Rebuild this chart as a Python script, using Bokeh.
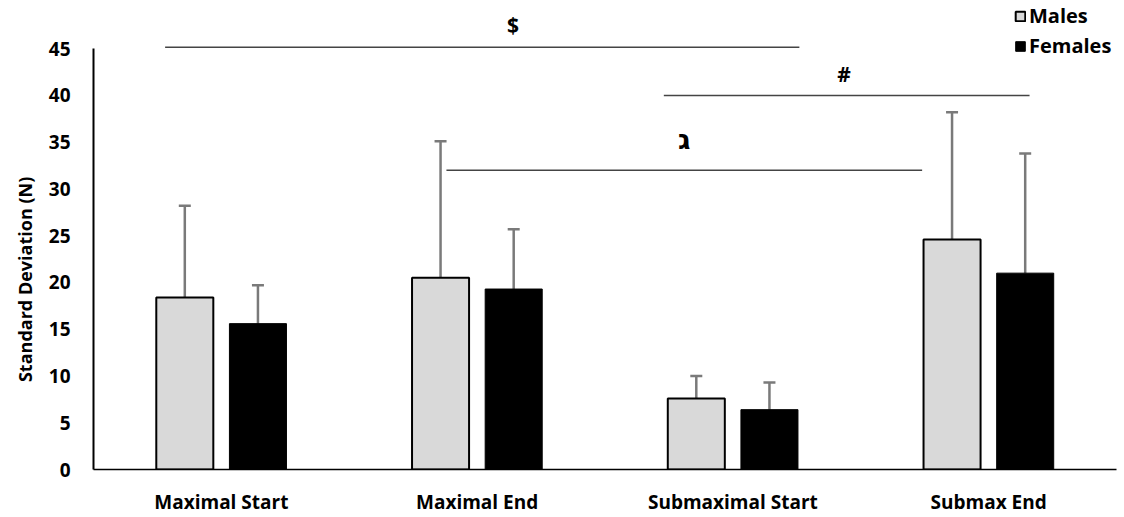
from bokeh.plotting import figure
from bokeh.models import Range1d, FixedTicker, Whisker, TeeHead, ColumnDataSource, Legend, LegendItem
from bokeh.core.properties import value
from bokeh.embed import file_html
from bokeh.resources import INLINE

categories = ["Maximal Start", "Maximal End", "Submaximal Start", "Submax End"]
males = [18.4, 20.5, 7.6, 24.6]
females = [15.6, 19.3, 6.4, 21.0]
males_sd = [9.8, 14.6, 2.4, 13.6]
females_sd = [4.1, 6.4, 2.9, 12.8]
y_ticks = [0, 5, 10, 15, 20, 25, 30, 35, 40, 45]

# significance brackets: symbol, start, end (category units), height
sig_symbols = ["$", "#", "\u05d2"]
sig_start = [0.28, 2.23, 1.38]
sig_end = [2.76, 3.66, 3.24]
sig_height = [45.15, 40.0, 32.0]

FONT = "Open Sans"
centers = [i + 0.5 for i in range(len(categories))]
dodge = 0.143
bw = 0.223

p = figure(width=1120, height=517, output_backend="svg", toolbar_location=None,
           x_range=Range1d(0, 4), y_range=Range1d(0, 50.16),
           min_border_left=93, min_border_right=4, min_border_top=0, min_border_bottom=45)
p.outline_line_color = None
p.grid.visible = False
p.background_fill_color = "white"

mx = [c - dodge for c in centers]
fx = [c + dodge for c in centers]
src_m = ColumnDataSource(dict(x=mx, top=males, up=[m + s for m, s in zip(males, males_sd)]))
src_f = ColumnDataSource(dict(x=fx, top=females, up=[m + s for m, s in zip(females, females_sd)]))

rm = p.vbar(x="x", top="top", width=bw, source=src_m, fill_color="#d9d9d9",
            line_color="black", line_width=2)
rf = p.vbar(x="x", top="top", width=bw, source=src_f, fill_color="black",
            line_color="black", line_width=1)

for src in (src_m, src_f):
    w = Whisker(base="x", lower="top", upper="up", source=src, dimension="height",
                line_color="#7a7a7a", line_width=2.5,
                upper_head=TeeHead(size=12, line_color="#7a7a7a", line_width=2.5),
                lower_head=None)
    p.add_layout(w)

# significance lines
p.segment(x0=sig_start, x1=sig_end, y0=sig_height, y1=sig_height,
          line_color="#444444", line_width=1.5)
sig_tx = [(a + b) / 2 for a, b in zip(sig_start, sig_end)]
sig_tx = [sig_tx[0] + 0.12, sig_tx[1] - 0.01, sig_tx[2] + 0.0]
sig_ty = [h + 2.35 for h in sig_height]
sig_ty[2] = sig_height[2] + 3.3
p.text(x=sig_tx[:2], y=sig_ty[:2], text=sig_symbols[:2], text_align="center", text_baseline="middle",
       text_font=value(FONT), text_font_style="bold", text_font_size="21px", text_color="black")
p.text(x=sig_tx[2:], y=sig_ty[2:], text=sig_symbols[2:], text_align="center", text_baseline="middle",
       text_font=value("DejaVu Sans"), text_font_style="bold", text_font_size="28px", text_color="black")

# axes
p.xaxis.ticker = FixedTicker(ticks=centers)
p.xaxis.major_label_overrides = {c: n for c, n in zip(centers, categories)}
p.xaxis.major_tick_line_color = None
p.xaxis.minor_tick_line_color = None
p.xaxis.axis_line_color = "black"
p.xaxis.axis_line_width = 1.5
p.xaxis.major_label_standoff = 13
p.xaxis.major_label_text_font = FONT
p.xaxis.major_label_text_font_style = "bold"
p.xaxis.major_label_text_font_size = "19px"
p.xaxis.major_label_text_color = "black"

p.yaxis.ticker = FixedTicker(ticks=y_ticks)
p.yaxis.bounds = (0, 45)
p.yaxis.major_tick_line_color = None
p.yaxis.minor_tick_line_color = None
p.yaxis.axis_line_color = "black"
p.yaxis.axis_line_width = 2
p.yaxis.major_label_standoff = 17
p.yaxis.major_label_text_font = FONT
p.yaxis.major_label_text_font_style = "bold"
p.yaxis.major_label_text_font_size = "19px"
p.yaxis.major_label_text_color = "black"
p.yaxis.axis_label = "Standard Deviation (N)" + "\u00a0" * 19
p.yaxis.axis_label_text_font = FONT
p.yaxis.axis_label_text_font_style = "bold"
p.yaxis.axis_label_text_font_size = "18px"
p.yaxis.axis_label_standoff = 9
p.yaxis.axis_label_text_color = "black"

legend = Legend(items=[LegendItem(label="Males", renderers=[rm]),
                       LegendItem(label="Females", renderers=[rf])],
                location=(921, 410), orientation="vertical",
                glyph_width=12, glyph_height=12, label_height=27, spacing=3,
                padding=0, margin=0, label_standoff=3,
                label_text_font=FONT, label_text_font_style="bold",
                label_text_font_size="20px", label_text_color="black",
                border_line_color=None, background_fill_alpha=0)
p.add_layout(legend)

open("out.html", "w").write(file_html(p, INLINE))
